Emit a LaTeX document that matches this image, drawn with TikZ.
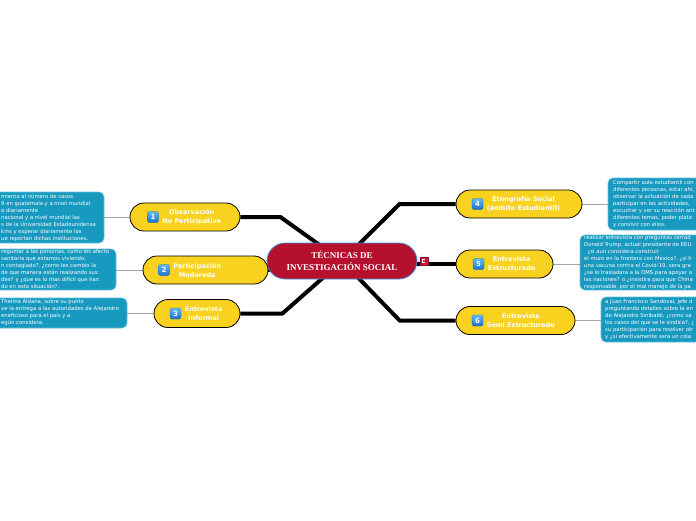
\documentclass[tikz,border=0pt]{standalone}
\usepackage{fontspec}
\setmainfont{DejaVu Sans}
\newfontfamily\titlefont{Liberation Serif}
\usetikzlibrary{
    positioning,
    backgrounds,
    calc,
}
\definecolor{topicyellow}{HTML}{F8D21E}
\definecolor{rootred}{HTML}{B5102E}
\definecolor{rootline}{HTML}{4A8FD0}
\definecolor{noteteal}{HTML}{1899C0}
\definecolor{noteline}{HTML}{63BFDC}
\definecolor{badgetop}{HTML}{5DBDF5}
\definecolor{badgebot}{HTML}{1A6FD0}
\definecolor{iconred}{HTML}{D0143A}
\tikzset{
    % Node styles
    root/.style={rectangle, rounded corners=18pt, draw=rootline, line width=0.8pt,
                 fill=rootred, text=white, align=center, inner sep=0pt,
                 font=\titlefont\bfseries\fontsize{9}{12}\selectfont,
                 minimum width=150pt, minimum height=36pt},
    topic/.style={rectangle, rounded corners=14pt, draw=black, line width=0.8pt,
                  fill=topicyellow, minimum height=28pt, inner sep=0pt},
    topic text/.style={text=white, align=center, inner sep=0pt,
                       font=\bfseries\fontsize{6.5}{9}\selectfont},
    badge/.style={rectangle, rounded corners=1.5pt, top color=badgetop,
                  bottom color=badgebot, draw=badgebot!80!black, line width=0.3pt,
                  minimum size=11pt, inner sep=0pt, text=white,
                  font=\bfseries\fontsize{7}{7}\selectfont},
    icon/.style={rectangle, fill=iconred, draw=iconred!70!black, line width=0.4pt,
                 minimum size=8pt, inner sep=0pt,
                 path picture={\fill[white]
                     ($(path picture bounding box.center)+(-1.8pt,-2pt)$) rectangle
                     ($(path picture bounding box.center)+(1.2pt,1.6pt)$);
                     \fill[iconred]
                     ($(path picture bounding box.center)+(-0.8pt,-1pt)$) rectangle
                     ($(path picture bounding box.center)+(1.2pt,0.6pt)$);}},
    note/.style={rectangle, rounded corners=5pt, draw=noteline, line width=0.6pt,
                 fill=noteteal, inner sep=0pt},
    note text/.style={text=white, align=left, inner sep=0pt, anchor=west,
                      font=\fontsize{5.3}{7}\selectfont},
    % Connector styles
    branch/.style={line width=4pt, black},
    twig/.style={line width=0.9pt, gray!70},
}

\begin{document}
\begin{tikzpicture}[x=1pt, y=-1pt]
    \useasboundingbox (0,0) rectangle (696,520);
    \clip (0,0) rectangle (696,520);

    % Root
    \node[root] (root) at (342,261) {TÉCNICAS DE\\INVESTIGACIÓN SOCIAL};
    \node[icon] (rooticon) at (424,261) {};

    % 1 Observacion
    \node[topic, minimum width=110pt] (obs) at (185,217) {};
    \node[badge] (obsnum) at (153,217) {1};
    \node[topic text, right=3.5pt of obsnum] (obstext) {Observación\\No Participativa};
    \node[note, minimum width=124pt, minimum height=51pt] (obsnote) at (42,217.5) {};
    \node[note text] at (1,217.5) {miento al número de casos\\9 en guatemala y a nivel mundial\\a diariamente\\nacional y a nivel mundial las\\s de la Universidad Estadounidense\\kins y esperar diariamente los\\ue reportan dichas instituciones.};

    % 2 Participacion
    \node[topic, minimum width=125pt] (par) at (205.5,270) {};
    \node[badge] (parnum) at (164,270) {2};
    \node[topic text, right=3.5pt of parnum] (partext) {Participación\\Moderada};
    \node[note, minimum width=136pt, minimum height=41pt] (parnote) at (48,269.5) {};
    \node[note text] at (1,269.5) {reguntar a las personas, como les afecto\\sanitaria que estamos viviendo,\\n contagiado?, ¿como les cambio la\\de que manera están realizando sus\\des? y ¿que es lo mas difícil que han\\do en esta situación?.};

    % 3 Entrevista informal
    \node[topic, minimum width=86pt] (inf) at (197,313.5) {};
    \node[badge] (infnum) at (175.5,313.5) {3};
    \node[topic text, right=3.5pt of infnum] (inftext) {Entrevista\\Informal};
    \node[note, minimum width=147pt, minimum height=30pt] (infnote) at (53.5,313) {};
    \node[note text] at (1,313) {Thelma Aldana, sobre su punto\\ve la entrega a las autoridades de Alejandro\\eneficioso para el país y a\\egún considera.};

    % 4 Etnografia
    \node[topic, minimum width=126pt] (etn) at (519,204) {};
    \node[badge] (etnnum) at (477.5,204) {4};
    \node[topic text, right=3.5pt of etnnum] (etntext) {Etnografía Social\\(ámbito Estudiantil)};
    \node[note, minimum width=108pt, minimum height=52pt] (etnnote) at (662,204) {};
    \node[note text] at (613,204) {Compartir aula estudiantil con\\diferentes personas, estar ahí,\\observar la actuación de cada\\participar en las actividades,\\escuchar y ver su reacción ant\\diferentes temas, poder platic\\y convivir con ellos.};

    % 5 Entrevista estructurado
    \node[topic, minimum width=97pt] (est) at (504.5,264) {};
    \node[badge] (estnum) at (478.5,264) {5};
    \node[topic text, right=3.5pt of estnum] (esttext) {Entrevista\\Estructurado};
    \node[note, minimum width=136pt, minimum height=55pt] (estnote) at (648,262.5) {};
    \node[note text] at (584,262.5) {realizar entrevista con preguntas cerrad\\Donald Trump, actual presidente de EEU\\\ \ ¿si aun considera construir\\el muro en la frontera con Mexico?, ¿si h\\una vacuna contra el Covid-19, sera gra\\¿se lo trasladara a la OMS para apoyar a\\las naciones? o ¿insistira para que China\\responsable, por el mal manejo de la pa};

    % 6 Entrevista semi estructurado
    \node[topic, minimum width=119pt] (sem) at (515.5,320.5) {};
    \node[badge] (semnum) at (477.5,320.5) {6};
    \node[topic text, right=3.5pt of semnum] (semtext) {Entrevista\\Semi Estructurado};
    \node[note, minimum width=115pt, minimum height=45pt] (semnote) at (658.5,319.5) {};
    \node[note text] at (605,319.5) {a Juan Francisco Sandoval, jefe d\\preguntando detalles sobre la en\\de Alejandro Sinibaldi, ¿como va\\los casos del que se le sindica?, ¿\\su participación para resolver otr\\y ¿si efectivamente sera un cola};

    % Connectors
    \begin{scope}[on background layer]
        \fill[white] (0,0) rectangle (696,520);
        \draw[branch] (obs.east) -- ++(40,0) -- (root.center);
        \draw[branch] (par.east) -- (root.center |- par.east);
        \draw[branch] (inf.east) -- ++(42,0) -- (root.center);
        \draw[branch] (etn.west) -- ++(-56,0) -- (root.center);
        \draw[branch] (root.center |- est.west) -- (est.west);
        \draw[branch] (sem.west) -- ++(-56,0) -- (root.center);
        \draw[twig] (obs.west) -- (obs.west -| obsnote.east);
        \draw[twig] (par.west) -- (par.west -| parnote.east);
        \draw[twig] (inf.west) -- (inf.west -| infnote.east);
        \draw[twig] (etn.east) -- (etn.east -| etnnote.west);
        \draw[twig] (est.east) -- (est.east -| estnote.west);
        \draw[twig] (sem.east) -- (sem.east -| semnote.west);
    \end{scope}
\end{tikzpicture}
\end{document}
